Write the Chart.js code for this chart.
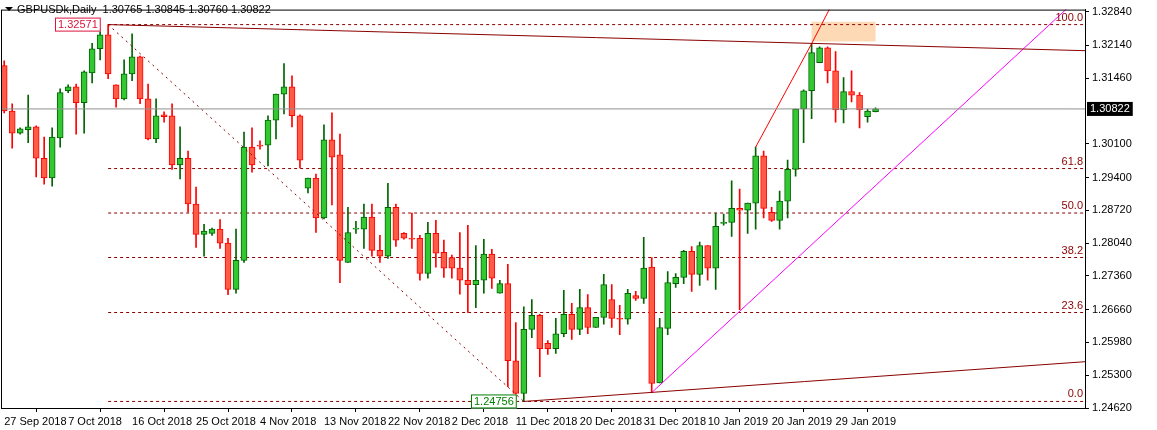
<!DOCTYPE html>
<html>
<head>
<meta charset="utf-8">
<script src="https://cdn.jsdelivr.net/npm/chart.js@4.4.0/dist/chart.umd.min.js"></script>
<style>
  html, body { margin: 0; padding: 0; background: #fff; }
  #wrap { width: 1157px; height: 430px; position: relative; }
</style>
</head>
<body>
<div id="wrap"><canvas id="grafico"></canvas></div>
<script>
// dados diarios GBPUSDk
const opens = [1.3172,1.3078,1.3032,1.3039,1.3045,1.2980,1.2939,1.3022,1.3120,1.3128,
  1.3095,1.3157,1.3207,1.3236,1.3132,1.3103,1.3155,1.3190,1.3103,1.3020,
  1.3070,1.3068,1.2966,1.2980,1.2885,1.2822,1.2824,1.2833,1.2804,1.2708,
  1.2768,1.3003,1.3007,1.3007,1.3059,1.3113,1.3128,1.3068,1.2918,1.2939,
  1.2856,1.3018,1.2987,1.2764,1.2833,1.2833,1.2858,1.2789,1.2777,1.2878,
  1.2824,1.2814,1.2814,1.2741,1.2824,1.2785,1.2774,1.2752,1.2727,1.2718,
  1.2727,1.2781,1.2700,1.2720,1.2560,1.2492,1.2625,1.2654,1.2596,1.2585,
  1.2616,1.2656,1.2625,1.2670,1.2629,1.2650,1.2687,1.2648,1.2646,1.2695,
  1.2689,1.2754,1.2514,1.2627,1.2720,1.2733,1.2787,1.2739,1.2799,1.2752,
  1.2845,1.2847,1.2876,1.2872,1.2887,1.2985,1.2868,1.2851,1.2891,1.2957,
  1.3082,1.3120,1.3178,1.3209,1.3161,1.3080,1.3118,1.3111,1.3066,1.30765];
const highs = [1.3182,1.3093,1.3043,1.3111,1.3047,1.3024,1.3043,1.3124,1.3132,1.3134,
  1.3161,1.3218,1.3249,1.32571,1.3132,1.3184,1.3238,1.3192,1.3134,1.3103,
  1.3076,1.3093,1.3045,1.2995,1.2920,1.2843,1.2835,1.2853,1.2814,1.2833,
  1.3034,1.3043,1.3016,1.3068,1.3113,1.3176,1.3151,1.3070,1.2939,1.2947,
  1.3049,1.3074,1.3030,1.2878,1.2849,1.2885,1.2885,1.2820,1.2928,1.2885,
  1.2826,1.2866,1.2820,1.2847,1.2851,1.2810,1.2779,1.2826,1.2841,1.2799,
  1.2812,1.2791,1.2727,1.2760,1.2639,1.2672,1.2687,1.2656,1.2602,1.2648,
  1.2706,1.2679,1.2708,1.2697,1.2650,1.2739,1.2718,1.2675,1.2708,1.2704,
  1.2816,1.2774,1.2648,1.2745,1.2741,1.2789,1.2797,1.2806,1.2799,1.2866,
  1.2864,1.2933,1.2916,1.2887,1.3003,1.2995,1.2878,1.2912,1.2976,1.3082,
  1.3122,1.32175,1.3211,1.3211,1.3201,1.3147,1.3161,1.3116,1.3082,1.30845];
const lows = [1.3074,1.3001,1.3030,1.3012,1.2941,1.2926,1.2922,1.3003,1.3116,1.3030,
  1.3032,1.3136,1.3184,1.3145,1.3086,1.3101,1.3141,1.3093,1.3018,1.3012,
  1.3055,1.2957,1.2937,1.2868,1.2795,1.2777,1.2820,1.2793,1.2697,1.2700,
  1.2764,1.2951,1.2999,1.2964,1.3020,1.3072,1.3045,1.2960,1.2908,1.2826,
  1.2854,1.2883,1.2722,1.2764,1.2824,1.2793,1.2777,1.2764,1.2772,1.2797,
  1.2812,1.2793,1.2727,1.2731,1.2754,1.2733,1.2731,1.2698,1.2660,1.2670,
  1.2700,1.2710,1.2700,1.2506,1.2481,1.24756,1.2608,1.2527,1.2573,1.2575,
  1.2610,1.2604,1.2614,1.2616,1.2629,1.2636,1.2629,1.2614,1.2636,1.2685,
  1.2679,1.2494,1.2514,1.2614,1.2712,1.2720,1.2704,1.2716,1.2727,1.2708,
  1.2841,1.2818,1.2666,1.2824,1.2833,1.2856,1.2849,1.2833,1.2856,1.2943,
  1.3012,1.3062,1.3178,1.3136,1.3055,1.3053,1.3097,1.3043,1.3055,1.30760];
const closes = [1.3078,1.3032,1.3041,1.3045,1.2980,1.2939,1.3024,1.3116,1.3128,1.3095,
  1.3159,1.3207,1.3236,1.3155,1.3103,1.3155,1.3190,1.3103,1.3020,1.3068,
  1.3066,1.2966,1.2980,1.2885,1.2822,1.2829,1.2833,1.2804,1.2708,1.2768,
  1.3003,1.2966,1.3005,1.3059,1.3113,1.3128,1.3068,1.2976,1.2939,1.2856,
  1.3018,1.2982,1.2768,1.2826,1.2835,1.2858,1.2789,1.2777,1.2878,1.2810,
  1.2814,1.2812,1.2741,1.2824,1.2783,1.2752,1.2752,1.2727,1.2718,1.2727,
  1.2781,1.2731,1.2720,1.2560,1.2492,1.2625,1.2654,1.2585,1.2585,1.2616,
  1.2656,1.2625,1.2670,1.2629,1.2650,1.2718,1.2648,1.2646,1.2700,1.2689,
  1.2752,1.2513,1.2629,1.2722,1.2733,1.2787,1.2739,1.2799,1.2752,1.2839,
  1.2847,1.2876,1.2872,1.2887,1.2985,1.2876,1.2851,1.2891,1.2957,1.3082,
  1.3120,1.3199,1.3209,1.3161,1.3080,1.3118,1.3111,1.3080,1.3078,1.30822];

const dateLabels = ["27 Sep 2018","7 Oct 2018","16 Oct 2018","25 Oct 2018","4 Nov 2018","13 Nov 2018",
  "22 Nov 2018","2 Dec 2018","11 Dec 2018","20 Dec 2018","31 Dec 2018","10 Jan 2019","20 Jan 2019","29 Jan 2019"];
const dateIdx = [0,8,16,24,32,40,48,56,64,72,80,88,96,104];
const priceTicks = [1.32840,1.32140,1.31460,1.30100,1.29400,1.28720,1.28040,1.27360,1.26660,1.25980,1.25300,1.24620];

const fibHigh = 1.32571, fibLow = 1.24756;
const fibPcts = [100.0, 61.8, 50.0, 38.2, 23.6, 0.0];
const lastPrice = 1.30822;

const X_MIN = -0.4, X_MAX = 135.2;

// montar velas
const upWick = [], upBody = [], dnWick = [], dnBody = [];
for (let i = 0; i < opens.length; i++) {
  const up = closes[i] >= opens[i];
  (up ? upWick : dnWick).push({x: i, y: [lows[i], highs[i]]});
  (up ? upBody : dnBody).push({x: i, y: [opens[i], closes[i]]});
}

const fibSets = fibPcts.map(p => {
  const v = fibLow + (fibHigh - fibLow) * p / 100;
  return {type: "line", data: [{x: 13, y: v}, {x: X_MAX, y: v}], borderColor: "#8b0000",
    borderWidth: 1, borderDash: [3, 3], pointRadius: 0, order: 5};
});

function linha(pts, cor, dash) {
  return {type: "line", data: pts, borderColor: cor, borderWidth: 1, borderDash: dash || [],
    pointRadius: 0, order: 0};
}

const overlay = {
  id: "overlay",
  beforeDatasetsDraw(chart) {
    const {ctx, scales: {x, y}} = chart;
    ctx.save();
    ctx.fillStyle = "#fdd9b5";
    const x1 = x.getPixelForValue(101), x2 = x.getPixelForValue(109);
    const y1 = y.getPixelForValue(1.3263), y2 = y.getPixelForValue(1.3222);
    ctx.fillRect(x1, y1, x2 - x1, y2 - y1);
    ctx.restore();
  },
  afterDraw(chart) {
    const {ctx, chartArea: a, scales: {x, y}} = chart;
    ctx.save();
    ctx.strokeStyle = "#000";
    ctx.lineWidth = 1;
    ctx.strokeRect(a.left + 0.5, a.top + 0.5, a.right - a.left, a.bottom - a.top);
    ctx.font = "11px 'Liberation Sans', Arial, sans-serif";
    ctx.textBaseline = "middle";
    // titulo
    ctx.fillStyle = "#000";
    ctx.beginPath();
    ctx.moveTo(5, 7); ctx.lineTo(13, 7); ctx.lineTo(9, 11); ctx.closePath(); ctx.fill();
    ctx.textAlign = "left";
    ctx.fillText("GBPUSDk,Daily  1.30765 1.30845 1.30760 1.30822", 17, 10);
    // rotulos fibo
    ctx.fillStyle = "#8b0000";
    ctx.textAlign = "right";
    fibPcts.forEach(p => {
      const v = fibLow + (fibHigh - fibLow) * p / 100;
      ctx.fillText(p.toFixed(1), a.right - 2, y.getPixelForValue(v) - 7);
    });
    // caixas de preco
    function caixa(txt, cx, cy, cor, fundo, txtCor) {
      const w = ctx.measureText(txt).width + 6;
      ctx.fillStyle = fundo;
      ctx.fillRect(cx, cy - 7, w, 14);
      if (cor) { ctx.strokeStyle = cor; ctx.strokeRect(cx + 0.5, cy - 6.5, w - 1, 13); }
      ctx.fillStyle = txtCor;
      ctx.textAlign = "left";
      ctx.fillText(txt, cx + 3, cy + 0.5);
    }
    caixa("1.32571", 55, y.getPixelForValue(fibHigh), "#dc143c", "#fff", "#dc143c");
    caixa("1.24756", 471, y.getPixelForValue(fibLow), "#008000", "#fff", "#008000");
    caixa("1.30822", a.right + 2, y.getPixelForValue(lastPrice), null, "#000", "#fff");
    ctx.restore();
  }
};

const ctx = document.getElementById("grafico").getContext("2d");
new Chart(ctx, {
  type: "bar",
  data: {
    datasets: [
      {data: upWick, backgroundColor: "#006400", barThickness: 1, grouped: false, order: 3},
      {data: dnWick, backgroundColor: "#ff0000", barThickness: 1, grouped: false, order: 3},
      {data: upBody, backgroundColor: "#32c832", borderColor: "#006400", borderWidth: 1,
        borderSkipped: false, barThickness: 6, grouped: false, minBarLength: 1, order: 2},
      {data: dnBody, backgroundColor: "#ff5a46", borderColor: "#ff0000", borderWidth: 1,
        borderSkipped: false, barThickness: 6, grouped: false, minBarLength: 1, order: 2},
      linha([{x: X_MIN, y: lastPrice}, {x: X_MAX, y: lastPrice}], "#909090"),
      linha([{x: 13, y: fibHigh}, {x: 65, y: fibLow}], "#8b0000", [2, 4]),
      linha([{x: 13, y: fibHigh}, {x: X_MAX, y: 1.3203}], "#8b0000"),
      linha([{x: 65, y: fibLow}, {x: X_MAX, y: 1.2558}], "#8b0000"),
      linha([{x: 94, y: 1.3003}, {x: 101, y: 1.32175}, {x: 105, y: 1.3346}], "#ff0000"),
      linha([{x: 81, y: 1.2494}, {x: X_MAX, y: 1.3325}], "#ff00ff"),
      ...fibSets
    ]
  },
  options: {
    responsive: true,
    maintainAspectRatio: false,
    animation: false,
    layout: {padding: {top: 4, left: 1, right: 0, bottom: 0}},
    plugins: {legend: {display: false}, tooltip: {enabled: false}},
    scales: {
      x: {
        type: "linear", min: X_MIN, max: X_MAX, offset: false,
        grid: {drawOnChartArea: false, tickLength: 4, color: "#000"},
        border: {color: "#000"},
        afterBuildTicks: s => { s.ticks = dateIdx.map(v => ({value: v})); },
        afterFit: s => { s.height = 22; },
        ticks: {
          autoSkip: false, maxRotation: 0, align: "start", color: "#000",
          font: {family: "'Liberation Sans', Arial, sans-serif", size: 11},
          callback: v => dateLabels[dateIdx.indexOf(v)]
        }
      },
      y: {
        position: "right", min: 1.24620, max: 1.32882,
        grid: {drawOnChartArea: false, tickLength: 4, color: "#000"},
        border: {color: "#000"},
        afterBuildTicks: s => { s.ticks = priceTicks.map(v => ({value: v})); },
        afterFit: s => { s.width = 72; },
        ticks: {
          color: "#000", font: {family: "'Liberation Sans', Arial, sans-serif", size: 11},
          callback: v => v.toFixed(5)
        }
      }
    }
  },
  plugins: [overlay]
});
</script>
</body>
</html>
